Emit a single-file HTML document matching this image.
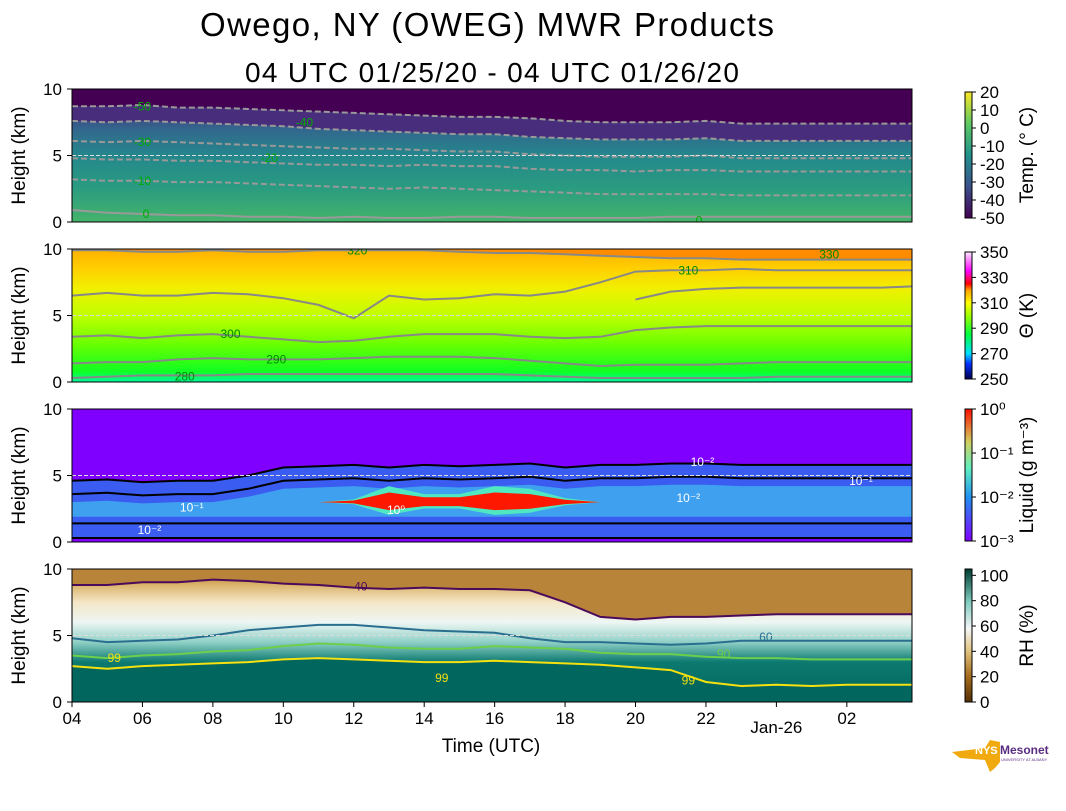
<!DOCTYPE html>
<html><head><meta charset="utf-8"><style>
body{margin:0;background:#fff;}
svg text{font-family:"Liberation Sans","DejaVu Sans",sans-serif;}
</style></head><body>
<svg id="fig" width="1066" height="806" viewBox="0 0 1066 806" xmlns="http://www.w3.org/2000/svg">
<defs>
<linearGradient id="gT" x1="0" y1="1" x2="0" y2="0">
<stop offset="0" stop-color="#45b46a"/><stop offset="0.25" stop-color="#2a9c80"/><stop offset="0.5" stop-color="#24878c"/><stop offset="0.7" stop-color="#33668d"/><stop offset="0.85" stop-color="#463a80"/><stop offset="1" stop-color="#440154"/></linearGradient>
<linearGradient id="gTh" x1="0" y1="1" x2="0" y2="0">
<stop offset="0" stop-color="#00f8a0"/><stop offset="0.08" stop-color="#10ff20"/><stop offset="0.3" stop-color="#70ff00"/><stop offset="0.5" stop-color="#c0ff00"/><stop offset="0.7" stop-color="#f0f000"/><stop offset="0.85" stop-color="#ffd000"/><stop offset="1" stop-color="#ffb000"/></linearGradient>
<linearGradient id="gRH" x1="0" y1="1" x2="0" y2="0">
<stop offset="0" stop-color="#01665e"/><stop offset="0.3" stop-color="#0c7a70"/><stop offset="0.45" stop-color="#8fd0c6"/><stop offset="0.6" stop-color="#eef6f4"/><stop offset="0.75" stop-color="#f4e6c6"/><stop offset="0.88" stop-color="#dbb46c"/><stop offset="1" stop-color="#a8701e"/></linearGradient>
<linearGradient id="cb1" x1="0" y1="1" x2="0" y2="0"><stop offset="0" stop-color="#440154"/><stop offset="0.25" stop-color="#3b528b"/><stop offset="0.5" stop-color="#21918c"/><stop offset="0.75" stop-color="#5ec962"/><stop offset="1" stop-color="#fde725"/></linearGradient>
<linearGradient id="cb2" x1="0" y1="1" x2="0" y2="0"><stop offset="0" stop-color="#000050"/><stop offset="0.12" stop-color="#0030ff"/><stop offset="0.2" stop-color="#00e0ff"/><stop offset="0.35" stop-color="#00ff40"/><stop offset="0.5" stop-color="#a0ff00"/><stop offset="0.6" stop-color="#ffff00"/><stop offset="0.7" stop-color="#ffa000"/><stop offset="0.75" stop-color="#ff0000"/><stop offset="0.85" stop-color="#ff00ff"/><stop offset="1" stop-color="#ffe8ff"/></linearGradient>
<linearGradient id="cb3" x1="0" y1="1" x2="0" y2="0"><stop offset="0" stop-color="#8000ff"/><stop offset="0.33" stop-color="#2090f0"/><stop offset="0.55" stop-color="#60f0c0"/><stop offset="0.75" stop-color="#d0d060"/><stop offset="1" stop-color="#ff1000"/></linearGradient>
<linearGradient id="cb4" x1="0" y1="1" x2="0" y2="0"><stop offset="0" stop-color="#543005"/><stop offset="0.2" stop-color="#a86e1e"/><stop offset="0.38" stop-color="#dfc27d"/><stop offset="0.55" stop-color="#f5f5f5"/><stop offset="0.75" stop-color="#80cdc1"/><stop offset="1" stop-color="#003c30"/></linearGradient>
</defs>
<text x="487" y="36" font-size="33" text-anchor="middle" textLength="574">Owego, NY (OWEG) MWR Products</text>
<text x="492" y="82" font-size="28" text-anchor="middle" textLength="494">04 UTC 01/25/20 - 04 UTC 01/26/20</text>
<g id="plots"></g>
<text x="491" y="752" font-size="19" text-anchor="middle">Time (UTC)</text>
<g>
<path d="M952 752 L985 748 L990 740 L1000 742 L1000 762 L995 768 L990 772 L985 760 L960 758 Z" fill="#f0aa10"/>
<text x="975" y="754" font-size="11" font-weight="bold" fill="#fff">NYS</text>
<text x="1000" y="754" font-size="12" font-weight="bold" fill="#5a2d82">Mesonet</text>
<text x="1001" y="761" font-size="4" fill="#5a2d82">UNIVERSITY AT ALBANY</text>
</g>
</svg>
<script>
// index i = hours after 04 UTC
const hours=[0,1,2,3,4,5,6,7,8,9,10,11,12,13,14,15,16,17,18,19,20,21,22,23,24];
const xTickLabels=["04","06","08","10","12","14","16","18","20","22","Jan-26","02"];
const xTickHours=[0,2,4,6,8,10,12,14,16,18,20,22];
// temperature contour heights (km)
const tM50=[8.7,8.7,8.8,8.6,8.6,8.5,8.4,8.3,8.2,8.1,8.0,7.9,7.9,7.8,7.6,7.5,7.5,7.5,7.6,7.4,7.4,7.4,7.4,7.4,7.4];
const tM40=[7.6,7.5,7.6,7.5,7.4,7.3,7.2,7.0,6.9,6.8,6.7,6.6,6.6,6.4,6.3,6.2,6.2,6.2,6.3,6.1,6.1,6.1,6.1,6.1,6.1];
const tM30=[6.1,6.0,6.1,6.0,5.9,5.8,5.7,5.6,5.5,5.5,5.4,5.3,5.3,5.1,5.0,4.9,4.9,4.9,5.0,4.8,4.8,4.8,4.8,4.8,4.8];
const tM20=[4.8,4.7,4.7,4.6,4.6,4.5,4.4,4.3,4.3,4.2,4.3,4.2,4.2,4.0,3.9,3.9,3.8,3.9,3.9,3.8,3.8,3.8,3.8,3.8,3.8];
const tM10=[3.2,3.1,3.1,3.0,3.0,2.9,2.8,2.7,2.6,2.5,2.6,2.5,2.4,2.3,2.2,2.1,2.1,2.1,2.1,2.0,2.0,2.0,2.0,2.0,2.0];
const t0=[0.9,0.7,0.6,0.5,0.5,0.4,0.4,0.3,0.4,0.3,0.3,0.4,0.4,0.3,0.3,0.3,0.3,0.4,0.4,0.4,0.4,0.4,0.4,0.4,0.4];
// potential temperature contours
const th320=[9.9,9.9,9.8,9.8,9.9,9.8,9.8,9.9,9.9,9.9,9.9,9.8,9.7,9.7,9.6,9.5,9.4,9.3,9.3,9.2,9.2,9.2,9.2,9.2,9.2];
const th310=[6.5,6.7,6.5,6.5,6.7,6.6,6.3,5.8,4.8,6.5,6.2,6.3,6.6,6.5,6.8,7.5,8.3,8.4,8.4,8.5,8.4,8.4,8.4,8.4,8.4];
const th305=[null,null,null,null,null,null,null,null,null,null,null,null,null,null,null,null,6.2,6.8,7.0,7.1,7.1,7.1,7.1,7.1,7.2];
const th300=[3.4,3.5,3.3,3.5,3.6,3.4,3.2,3.0,3.1,3.4,3.6,3.6,3.6,3.4,3.3,3.4,3.9,4.1,4.2,4.2,4.2,4.2,4.2,4.2,4.2];
const th290=[1.4,1.5,1.5,1.7,1.8,1.7,1.7,1.7,1.8,1.9,1.9,1.9,1.8,1.6,1.4,1.2,1.3,1.3,1.3,1.4,1.5,1.5,1.5,1.5,1.5];
const th280=[0.3,0.4,0.5,0.5,0.5,0.6,0.6,0.6,0.6,0.6,0.6,0.6,0.6,0.5,0.4,0.3,0.3,0.3,0.3,0.3,0.4,0.4,0.4,0.4,0.4];
// liquid cloud top (km) and core thickness
const liqTop=[4.6,4.7,4.5,4.6,4.6,5.0,5.6,5.7,5.8,5.6,5.8,5.7,5.8,5.9,5.6,5.8,5.8,5.9,5.9,5.8,5.8,5.8,5.8,5.8,5.8];
const liqCore=[0,0,0,0,0,0,0,0,0.2,1.2,0.6,0.6,1.2,1.0,0.3,0,0,0,0,0,0,0,0,0,0];
// RH contours
const rh40=[8.8,8.8,9.0,9.0,9.2,9.1,8.9,8.8,8.6,8.5,8.6,8.5,8.5,8.4,7.5,6.4,6.2,6.4,6.4,6.5,6.6,6.6,6.6,6.6,6.6];
const rh60=[4.8,4.5,4.6,4.7,5.0,5.4,5.6,5.8,5.8,5.6,5.4,5.3,5.2,4.8,4.5,4.5,4.4,4.3,4.4,4.6,4.6,4.6,4.6,4.6,4.6];
const rh90=[3.5,3.3,3.5,3.6,3.8,3.9,4.2,4.4,4.3,4.1,4.0,4.0,4.2,4.1,4.0,3.7,3.6,3.6,3.4,3.3,3.3,3.2,3.2,3.2,3.2];
const rh99=[2.7,2.5,2.7,2.8,2.9,3.0,3.2,3.3,3.2,3.1,3.0,3.0,3.1,3.0,2.9,2.8,2.6,2.4,1.5,1.2,1.3,1.2,1.3,1.3,1.3];

const X0=72,X1=912,HSPAN=23.85;
const xs=h=>X0+(X1-X0)*h/HSPAN;
const panels=[{y0:89,name:"temperature"},{y0:249,name:"theta"},{y0:409,name:"liquid"},{y0:569,name:"rh"}];
const PH=133;
const NS="http://www.w3.org/2000/svg";
const svg=document.getElementById('fig');
const defs=svg.querySelector('defs');
let root=document.getElementById('plots');
const plotsRoot=root;
function el(tag,attrs,parent){const e=document.createElementNS(NS,tag);for(const k in attrs)e.setAttribute(k,attrs[k]);(parent||root).appendChild(e);return e;}
function ys(p,km){return p.y0+PH-PH*km/10;}
function line(p,arr,stroke,w,dash,name){
 let d="";let started=false;
 arr.forEach((v,i)=>{if(v===null){started=false;return;}d+=(started?"L":"M")+xs(hours[i]).toFixed(1)+" "+ys(p,v).toFixed(1);started=true;});
 const e=el('path',{d:d,fill:'none',stroke:stroke,'stroke-width':w});
 if(dash)e.setAttribute('stroke-dasharray',dash);
 
 
 return e;}
function area(p,top,bot,fill,name){
 let d="";hours.forEach((h,i)=>{d+=(i?"L":"M")+xs(h).toFixed(1)+" "+ys(p,top[i]).toFixed(1);});
 for(let i=hours.length-1;i>=0;i--)d+="L"+xs(hours[i]).toFixed(1)+" "+ys(p,bot[i]).toFixed(1);
 const e=el('path',{d:d+"Z",fill:fill});
 
 
 return e;}
function label(p,h,km,txt,color,name){
 const e=el('text',{x:xs(h),y:ys(p,km)+4,'font-size':12,fill:color,'text-anchor':'middle'});
 e.textContent=txt;
 
 }

panels.forEach((p,pi)=>{
 const cp=document.createElementNS(NS,'clipPath');cp.setAttribute('id','clip'+pi);defs.appendChild(cp);
 const cr=document.createElementNS(NS,'rect');cr.setAttribute('x',X0);cr.setAttribute('y',p.y0);cr.setAttribute('width',X1-X0);cr.setAttribute('height',PH);cp.appendChild(cr);
 root=el('g',{'clip-path':`url(#clip${pi})`},plotsRoot);
 
 
 const fills=['url(#gT)','url(#gTh)','#8000ff','url(#gRH)'];
 const bg=el('rect',{x:X0,y:p.y0,width:X1-X0,height:PH,fill:fills[pi]});
 
 
 if(pi==0){
  area(p,hours.map(()=>10),tM50,'#440154','cold-top-region');
  area(p,tM50,tM40,'#472d7b','minus45-band');
  line(p,tM50,'#999','2','6 3','contour-minus50');line(p,tM40,'#999','2','6 3','contour-minus40');
  line(p,tM30,'#999','2','6 3','contour-minus30');line(p,tM20,'#999','2','6 3','contour-minus20');
  line(p,tM10,'#999','2','6 3','contour-minus10');line(p,t0,'#999','2',null,'contour-0');
  label(p,2,8.7,'-50','#0a0','label-minus50');label(p,6.6,7.5,'-40','#0a0','label-minus40');
  label(p,2,6.0,'-30','#0a0','label-minus30');label(p,5.6,4.8,'-20','#0a0','label-minus20');
  label(p,2,3.1,'-10','#0a0','label-minus10');label(p,2.1,0.6,'0','#0a0','label-0');label(p,17.8,0.1,'0','#0a0','label-0b');
 }
 if(pi==1){
  area(p,hours.map(()=>10),th320,'#ff8c00','warm-top-region');
  line(p,th320,'#888','2',null,'contour-320');line(p,th310,'#888','2',null,'contour-310');
  line(p,th305,'#888','2',null,'contour-305');line(p,th300,'#888','2',null,'contour-300');
  line(p,th290,'#888','2',null,'contour-290');line(p,th280,'#888','2',null,'contour-280');
  label(p,8.1,9.9,'320','#080','label-320');label(p,17.5,8.4,'310','#080','label-310');
  label(p,4.5,3.6,'300','#080','label-300');label(p,5.8,1.7,'290','#080','label-290');
  label(p,3.2,0.4,'280','#080','label-280');label(p,21.5,9.6,'330','#080','label-330');
 }
 if(pi==2){
  area(p,liqTop,hours.map(()=>0.3),'#3a5cf0','cloud-layer');
  area(p,liqTop.map(v=>v-1.6),hours.map(()=>1.9),'#3fa0f0','cloud-core-layer');
  area(p,liqCore.map(v=>v>0?3.0+v:3.0),liqCore.map(v=>v>0?3.0-v*0.8:3.0),'#50e8c0','liquid-mid-region');
  const mid=liqCore.map(v=>3.0+v*0.6),low=liqCore.map(v=>3.0-v*0.5);
  area(p,mid,low,'#ff1800','liquid-max-region');
  line(p,liqTop,'#000','2',null,'contour-liquid-top');
  line(p,liqTop.map(v=>v-1.0),'#000','2',null,'contour-liquid-mid');
  line(p,hours.map(()=>1.4),'#000','2',null,'contour-liquid-low');
  line(p,hours.map(()=>0.3),'#000','2',null,'contour-liquid-base');
  label(p,17.9,6.0,'10⁻²','#fff','label-liquid-1e-2');label(p,22.4,4.6,'10⁻¹','#fff','label-liquid-1e-1');
  label(p,3.4,2.6,'10⁻¹','#fff','label-liquid-1e-1b');label(p,2.2,0.9,'10⁻²','#fff','label-liquid-1e-2b');
  label(p,9.2,2.4,'10⁰','#fff','label-liquid-1e0');label(p,17.5,3.3,'10⁻²','#fff','label-liquid-1e-2c');
 }
 if(pi==3){
  area(p,hours.map(()=>10),rh40,'#b8843a','dry-top-region');
  area(p,rh99,hours.map(()=>0),'#01665e','saturated-region');
  line(p,rh40,'#4b0a5a','2',null,'contour-rh40');line(p,rh60,'#2a6f8f','2',null,'contour-rh60');
  line(p,rh90,'#6ccf4a','2',null,'contour-rh90');line(p,rh99,'#f5e010','2',null,'contour-rh99');
  label(p,8.2,8.7,'40','#4b0a5a','label-rh40');label(p,19.7,4.9,'60','#2a6f8f','label-rh60');
  label(p,1.2,3.3,'99','#f5e010','label-rh99');label(p,18.5,3.6,'90','#6ccf4a','label-rh90');
  label(p,17.5,1.6,'99','#f5e010','label-rh99b');label(p,10.5,1.8,'99','#f5e010','label-rh99c');
 }
 const ref=el('line',{x1:X0,x2:X1,y1:ys(p,5),y2:ys(p,5),stroke:'#ddd','stroke-width':1,'stroke-dasharray':'4 2'});
 
 
 root=plotsRoot;
 const fr=el('rect',{x:X0,y:p.y0,width:X1-X0,height:PH,fill:'none',stroke:'#000','stroke-width':1});
 
 
 [0,5,10].forEach(v=>{
  el('line',{x1:X0-5,x2:X0,y1:ys(p,v),y2:ys(p,v),stroke:'#000'});
  const t=el('text',{x:X0-10,y:ys(p,v)+6,'font-size':17,'text-anchor':'end'});t.textContent=v;
  
  
 });
 const yt=el('text',{x:0,y:0,'font-size':19,'text-anchor':'middle',transform:`translate(25,${p.y0+PH/2}) rotate(-90)`});
 yt.textContent='Height (km)';
 
 
});
xTickHours.forEach((h,i)=>{
 el('line',{x1:xs(h),x2:xs(h),y1:702,y2:707,stroke:'#000'});
 const t=el('text',{x:xs(h),y:i==10?733:724,'font-size':17,'text-anchor':'middle'});t.textContent=xTickLabels[i];
 
 
});
// colorbars
const cbs=[{y:92,h:126,g:'cb1',ticks:['20','10','0','-10','-20','-30','-40','-50'],title:'Temp. (° C)'},
 {y:252,h:127,g:'cb2',ticks:['350','330','310','290','270','250'],title:'Θ (K)'},
 {y:409,h:132,g:'cb3',ticks:['10⁰','10⁻¹','10⁻²','10⁻³'],title:'Liquid (g m⁻³)'},
 {y:569,h:133,g:'cb4',ticks:['100','80','60','40','20','0'],title:'RH (%)'}];
cbs.forEach((c,ci)=>{
 const r=el('rect',{x:965,y:c.y,width:7,height:c.h,fill:`url(#${c.g})`,stroke:'#000','stroke-width':1});
 
 
 const n=c.ticks.length;
 c.ticks.forEach((t,i)=>{
  let yy=ci==3? c.y+c.h-(c.h*(100-i*20)/105) : c.y+c.h*i/(n-1);
  el('line',{x1:972,x2:976,y1:yy,y2:yy,stroke:'#000'});
  const tx=el('text',{x:980,y:yy+6,'font-size':17});tx.textContent=t;
  
  
 });
 const tt=el('text',{x:0,y:0,'font-size':19,'text-anchor':'middle',transform:`translate(1033,${c.y+c.h/2}) rotate(-90)`});
 tt.textContent=c.title;
 
 
});
</script>
</body></html>
